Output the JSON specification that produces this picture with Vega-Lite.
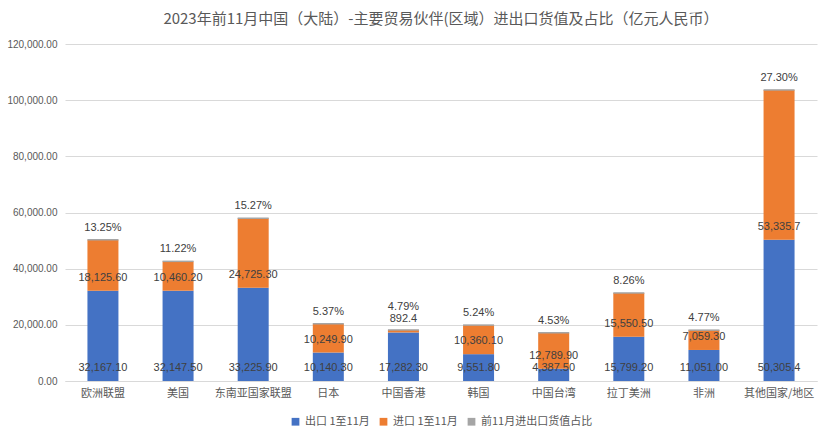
{
  "$schema": "https://vega.github.io/schema/vega-lite/v6.json",
  "autosize": {"type": "fit", "contains": "padding"},
  "width": 832,
  "height": 438,
  "padding": {"left": 6, "top": 12, "right": 15, "bottom": 11},
  "background": "white",
  "config": {
    "view": {"stroke": null},
    "font": "Noto Sans CJK SC",
    "legend": {"layout": {"bottom": {"anchor": "middle"}}}
  },
  "title": {
    "text": "2023年前11月中国（大陆）-主要贸易伙伴(区域）进出口货值及占比（亿元人民币）",
    "fontSize": 15,
    "fontWeight": "normal",
    "color": "#595959",
    "font": "Noto Sans CJK SC",
    "anchor": "middle",
    "offset": 12
  },
  "datasets": {
    "trade": [
      {"c": "欧洲联盟", "s": "出口 1至11月", "v": 32167.10, "t": "32,167.10"},
      {"c": "欧洲联盟", "s": "进口 1至11月", "v": 18125.60, "t": "18,125.60"},
      {"c": "美国", "s": "出口 1至11月", "v": 32147.50, "t": "32,147.50"},
      {"c": "美国", "s": "进口 1至11月", "v": 10460.20, "t": "10,460.20"},
      {"c": "东南亚国家联盟", "s": "出口 1至11月", "v": 33225.90, "t": "33,225.90"},
      {"c": "东南亚国家联盟", "s": "进口 1至11月", "v": 24725.30, "t": "24,725.30"},
      {"c": "日本", "s": "出口 1至11月", "v": 10140.30, "t": "10,140.30"},
      {"c": "日本", "s": "进口 1至11月", "v": 10249.90, "t": "10,249.90"},
      {"c": "中国香港", "s": "出口 1至11月", "v": 17282.30, "t": "17,282.30"},
      {"c": "中国香港", "s": "进口 1至11月", "v": 892.4, "t": "892.4"},
      {"c": "韩国", "s": "出口 1至11月", "v": 9551.80, "t": "9,551.80"},
      {"c": "韩国", "s": "进口 1至11月", "v": 10360.10, "t": "10,360.10"},
      {"c": "中国台湾", "s": "出口 1至11月", "v": 4387.50, "t": "4,387.50"},
      {"c": "中国台湾", "s": "进口 1至11月", "v": 12789.90, "t": "12,789.90"},
      {"c": "拉丁美洲", "s": "出口 1至11月", "v": 15799.20, "t": "15,799.20"},
      {"c": "拉丁美洲", "s": "进口 1至11月", "v": 15550.50, "t": "15,550.50"},
      {"c": "非洲", "s": "出口 1至11月", "v": 11051.00, "t": "11,051.00"},
      {"c": "非洲", "s": "进口 1至11月", "v": 7059.30, "t": "7,059.30"},
      {"c": "其他国家/地区", "s": "出口 1至11月", "v": 50305.4, "t": "50,305.4"},
      {"c": "其他国家/地区", "s": "进口 1至11月", "v": 53335.7, "t": "53,335.7"}
    ],
    "share": [
      {"c": "欧洲联盟", "p": "13.25%"},
      {"c": "美国", "p": "11.22%"},
      {"c": "东南亚国家联盟", "p": "15.27%"},
      {"c": "日本", "p": "5.37%"},
      {"c": "中国香港", "p": "4.79%"},
      {"c": "韩国", "p": "5.24%"},
      {"c": "中国台湾", "p": "4.53%"},
      {"c": "拉丁美洲", "p": "8.26%"},
      {"c": "非洲", "p": "4.77%"},
      {"c": "其他国家/地区", "p": "27.30%"}
    ]
  },
  "encoding": {
    "x": {
      "field": "c",
      "type": "nominal",
      "sort": ["欧洲联盟", "美国", "东南亚国家联盟", "日本", "中国香港", "韩国", "中国台湾", "拉丁美洲", "非洲", "其他国家/地区"],
      "title": null,
      "scale": {"paddingInner": 0.59, "paddingOuter": 0.3},
      "axis": {
        "labelAngle": 0,
        "ticks": false,
        "domainColor": "#D9D9D9",
        "labelColor": "#595959",
        "labelFontSize": 11,
        "labelPadding": 6
      }
    }
  },
  "layer": [
    {
      "data": {"name": "trade"},
      "mark": {"type": "bar", "size": 31, "stroke": "#A5A5A5", "strokeWidth": 0},
      "encoding": {
        "y": {
          "field": "v",
          "type": "quantitative",
          "stack": "zero",
          "title": null,
          "scale": {"domain": [0, 120000]},
          "axis": {
            "values": [0, 20000, 40000, 60000, 80000, 100000, 120000],
            "format": ",.2f",
            "domain": false,
            "ticks": false,
            "gridColor": "#D9D9D9",
            "labelColor": "#595959",
            "labelFontSize": 10,
            "labelPadding": 8,
            "labelFont": "Liberation Sans"
          }
        },
        "order": {"field": "s", "sort": "ascending"},
        "color": {
          "field": "s",
          "type": "nominal",
          "scale": {
            "domain": ["出口 1至11月", "进口 1至11月", "前11月进出口货值占比"],
            "range": ["#4472C4", "#ED7D31", "#A5A5A5"]
          },
          "legend": {
            "orient": "bottom",
            "direction": "horizontal",
            "title": null,
            "symbolType": "square",
            "symbolSize": 60,
            "symbolStrokeWidth": 0,
            "labelColor": "#595959",
            "labelFontSize": 11,
            "columnPadding": 8,
            "offset": 18
          }
        }
      }
    },
    {
      "data": {"name": "trade"},
      "transform": [
        {"aggregate": [{"op": "sum", "field": "v", "as": "total"}], "groupby": ["c"]}
      ],
      "mark": {"type": "tick", "orient": "horizontal", "size": 31, "thickness": 1.5, "color": "#A5A5A5", "opacity": 1},
      "encoding": {
        "y": {"field": "total", "type": "quantitative"}
      }
    },
    {
      "data": {"name": "trade"},
      "transform": [
        {"stack": "v", "groupby": ["c"], "as": ["v0", "v1"], "sort": [{"field": "s", "order": "ascending"}]}
      ],
      "mark": {"type": "text", "dy": -13, "fontSize": 11, "color": "#404040", "font": "Liberation Sans"},
      "encoding": {
        "y": {"field": "v0", "type": "quantitative"},
        "text": {"field": "t", "type": "nominal"}
      }
    },
    {
      "data": {"name": "trade"},
      "transform": [
        {"aggregate": [{"op": "sum", "field": "v", "as": "total"}], "groupby": ["c"]},
        {"lookup": "c", "from": {"data": {"name": "share"}, "key": "c", "fields": ["p"]}}
      ],
      "mark": {"type": "text", "dy": {"expr": "datum.c === '中国香港' ? -23 : -12"}, "fontSize": 11, "color": "#404040", "font": "Liberation Sans"},
      "encoding": {
        "y": {"field": "total", "type": "quantitative"},
        "text": {"field": "p", "type": "nominal"}
      }
    }
  ]
}
